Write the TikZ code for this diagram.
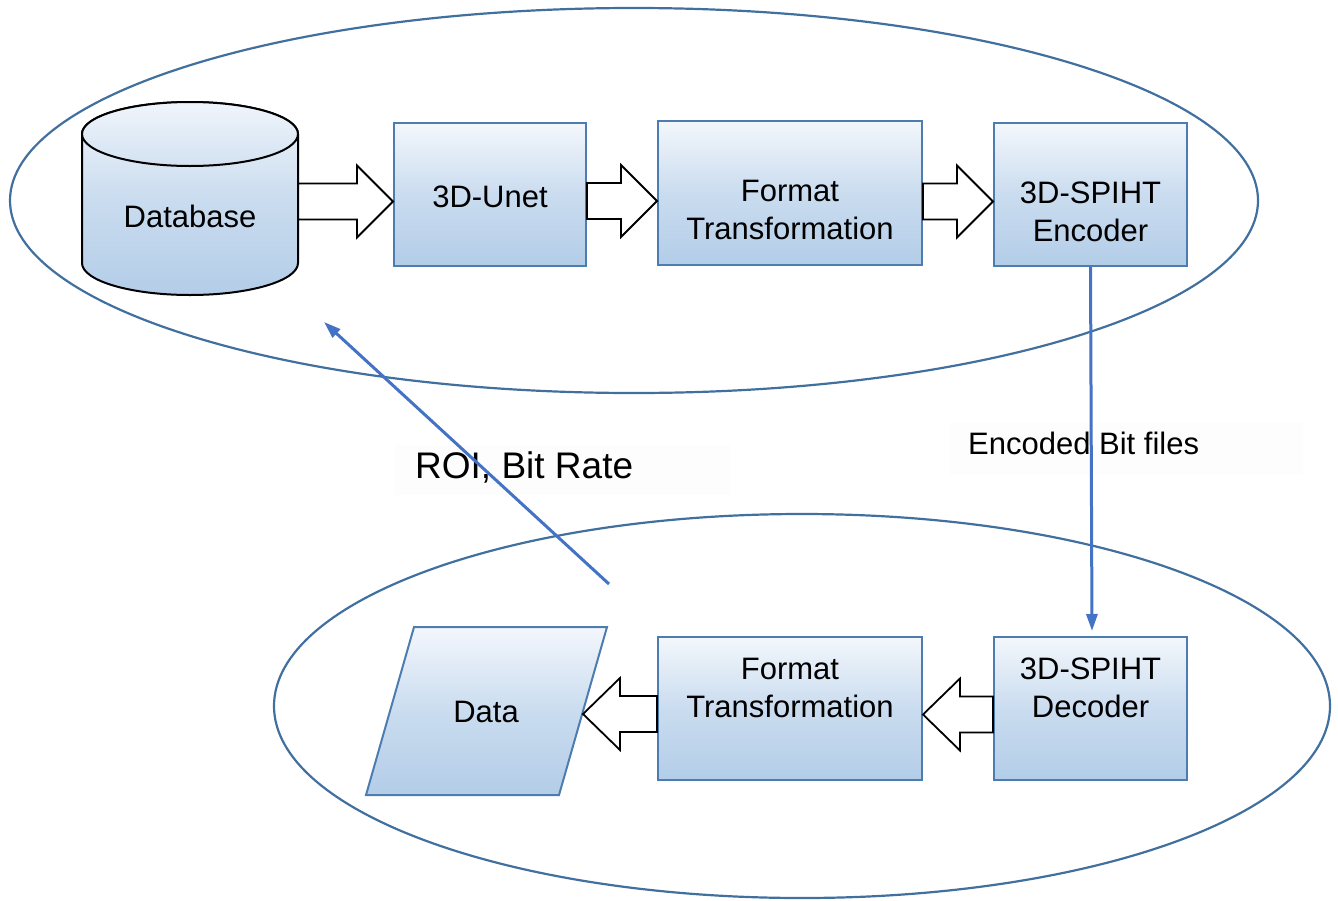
\documentclass[tikz,border=0pt]{standalone}
\usepackage{fontspec}
\setmainfont{Liberation Sans}
\usetikzlibrary{calc,arrows.meta}
\definecolor{boxline}{HTML}{4D7DB0}
\definecolor{ellline}{HTML}{41709F}
\definecolor{arrblue}{HTML}{4472C4}
\definecolor{shtop}{HTML}{F3F7FC}
\definecolor{shmid}{HTML}{CADCEF}
\definecolor{shbot}{HTML}{B3CDE8}
\definecolor{captop}{HTML}{F0F5FB}
\definecolor{capbot}{HTML}{D3E2F2}
\definecolor{lblbg}{HTML}{FDFDFD}
\newcommand\barR[3]{\draw[barrow] let \p1=(#1), \p2=(#2) in
 (\x1,\y2+#3*1pt+18pt) -- (\x2-36pt,\y2+#3*1pt+18pt) -- (\x2-36pt,\y2+#3*1pt+36pt) -- (\x2,\y2+#3*1pt)
 -- (\x2-36pt,\y2+#3*1pt-36pt) -- (\x2-36pt,\y2+#3*1pt-18pt) -- (\x1,\y2+#3*1pt-18pt) -- cycle;}
\newcommand\barL[3]{\draw[barrow] let \p1=(#1), \p2=(#2) in
 (\x1,\y2+#3*1pt+18pt) -- (\x2+37pt,\y2+#3*1pt+18pt) -- (\x2+37pt,\y2+#3*1pt+36pt) -- (\x2,\y2+#3*1pt)
 -- (\x2+37pt,\y2+#3*1pt-36pt) -- (\x2+37pt,\y2+#3*1pt-18pt) -- (\x1,\y2+#3*1pt-18pt) -- cycle;}
\begin{document}
\begin{tikzpicture}[x=1pt,y=-1pt,
 box/.style={draw=boxline,line width=2pt,top color=shtop,bottom color=shbot,middle color=shmid,inner sep=0pt},
 txt/.style={font=\fontsize{31}{38}\selectfont,align=center,inner sep=0pt},
 lbl/.style={font=\fontsize{31}{38}\selectfont,inner sep=0pt,anchor=west},
 lblbox/.style={fill=lblbg,inner sep=0pt,anchor=north west},
 barrow/.style={draw=black,fill=white,line width=1.8pt,line join=miter},
 ell/.style={draw=ellline,line width=2.2pt},
 bluearrow/.style={draw=arrblue,line width=3pt,-{Triangle[length=17pt,width=11pt]}}]
\useasboundingbox (0,0) rectangle (1338,900);
% ellipses
\draw[ell] (634,200.5) ellipse [x radius=624pt,y radius=192.5pt];
\draw[ell] (802,706) ellipse [x radius=528pt,y radius=192pt];
% database cylinder
\path[draw=black,line width=2pt,top color=shtop,bottom color=shbot,middle color=shmid]
 (82,134) -- (82,263) arc[start angle=180,end angle=360,x radius=108pt,y radius=32pt]
 -- (298,134) arc[start angle=0,end angle=180,x radius=108pt,y radius=32pt] -- cycle;
\path[draw=black,line width=2pt,top color=captop,bottom color=capbot]
 (190,134) ellipse [x radius=108pt,y radius=32pt];
\node[txt,minimum width=216pt] (db) at (190,216) {Database};
% top row
\node[box,minimum width=192pt,minimum height=143pt,label={[txt,yshift=-2pt]center:3D-Unet}] (unet) at (490,194.5) {};
\node[box,minimum width=264pt,minimum height=144pt,label={[txt,yshift=-17pt]center:Format\\Transformation}] (fmt1) at (790,193) {};
\node[box,minimum width=193pt,minimum height=143pt,label={[txt,yshift=-17pt]center:3D-SPIHT\\Encoder}] (enc) at (1090.5,194.5) {};
% bottom row
\path[draw=boxline,line width=2pt,top color=shtop,bottom color=shbot,middle color=shmid]
 (414,627) -- (607,627) -- (559,795) -- (366,795) -- cycle;
\node[txt] (data) at (486,712) {Data};
\coordinate (dataR) at (583,714);
\node[box,minimum width=264pt,minimum height=143pt,label={[txt,yshift=21pt]center:Format\\Transformation}] (fmt2) at (790,708.5) {};
\node[box,minimum width=193pt,minimum height=143pt,label={[txt,yshift=21pt]center:3D-SPIHT\\Decoder}] (dec) at (1090.5,708.5) {};
% block arrows
\barR{db.east}{unet.west}{-7}
\barR{unet.east}{fmt1.west}{-8}
\barR{fmt1.east}{enc.west}{-7}
\barL{fmt2.west}{dataR}{0}
\barL{dec.west}{fmt2.east}{-6}
% labels
\node[lblbox,minimum width=353pt,minimum height=52pt] (encbg) at (950,423) {};
\node[lbl] (enclbl) at (968,443) {Encoded Bit files};
\node[lblbox,minimum width=335pt,minimum height=50pt] (roibg) at (395,445) {};
\node[lbl,font=\fontsize{37}{44}\selectfont] (roilbl) at (415,467) {ROI, Bit Rate};
% blue arrows
\draw[bluearrow] (enc.south) -- ([xshift=1.5pt,yshift=5pt]dec.north);
\coordinate (roiS) at (609,584);
\coordinate (roiE) at (324,322);
\draw[bluearrow] (roiS) -- (roiE);
\end{tikzpicture}
\end{document}
